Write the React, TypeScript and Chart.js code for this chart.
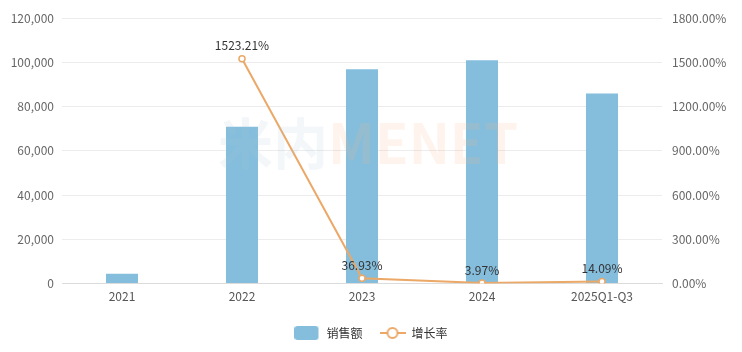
import React, { useEffect, useRef } from "react";
import { Chart, registerables } from "chart.js";

Chart.register(...registerables);

const categories = ["2021", "2022", "2023", "2024", "2025Q1-Q3"];
const salesValues = [4500, 70900, 96800, 100900, 85900];
const growthValues: (number | null)[] = [null, 1523.21, 36.93, 3.97, 14.09];
const leftTicks = [0, 20000, 40000, 60000, 80000, 100000, 120000];
const rightTicks = [0, 300, 600, 900, 1200, 1500, 1800];

const BAR_COLOR = "#85bedc";
const LINE_COLOR = "#eba867";
const FONT = "'Noto Sans CJK SC', 'Noto Sans', sans-serif";

function makeIcon(kind: "bar" | "line"): HTMLCanvasElement {
  const c = document.createElement("canvas");
  c.width = 26;
  c.height = 14;
  const ctx = c.getContext("2d")!;
  if (kind === "bar") {
    ctx.fillStyle = BAR_COLOR;
    const r = 3;
    ctx.beginPath();
    ctx.moveTo(r, 0);
    ctx.lineTo(24 - r, 0);
    ctx.quadraticCurveTo(24, 0, 24, r);
    ctx.lineTo(24, 14 - r);
    ctx.quadraticCurveTo(24, 14, 24 - r, 14);
    ctx.lineTo(r, 14);
    ctx.quadraticCurveTo(0, 14, 0, 14 - r);
    ctx.lineTo(0, r);
    ctx.quadraticCurveTo(0, 0, r, 0);
    ctx.fill();
  } else {
    ctx.strokeStyle = LINE_COLOR;
    ctx.lineWidth = 2;
    ctx.beginPath();
    ctx.moveTo(0, 7);
    ctx.lineTo(26, 7);
    ctx.stroke();
    ctx.fillStyle = "#fff";
    ctx.beginPath();
    ctx.arc(13, 7, 5, 0, Math.PI * 2);
    ctx.fill();
    ctx.stroke();
  }
  return c;
}

const labelPlugin = {
  id: "pointLabels",
  afterDatasetsDraw(chart: any) {
    const ctx = chart.ctx;
    // watermark
    const area = chart.chartArea;
    ctx.save();
    ctx.font = `bold 55px ${FONT}`;
    ctx.textBaseline = "middle";
    ctx.textAlign = "left";
    const wy = (area.top + area.bottom) / 2 - 8;
    const w1 = ctx.measureText("米内").width;
    const w2 = ctx.measureText("MENET").width;
    const sx = (area.left + area.right) / 2 - (w1 + w2) / 2 + 6;
    ctx.fillStyle = "rgba(170,195,210,0.14)";
    ctx.fillText("米内", sx, wy);
    ctx.fillStyle = "rgba(245,180,130,0.14)";
    ctx.fillText("MENET", sx + w1, wy);
    ctx.restore();

    const meta = chart.getDatasetMeta(1);
    ctx.save();
    ctx.font = `12px ${FONT}`;
    ctx.fillStyle = "#333";
    ctx.textAlign = "center";
    ctx.textBaseline = "bottom";
    meta.data.forEach((pt: any, i: number) => {
      const v = growthValues[i];
      if (v === null || v === undefined) return;
      ctx.fillText(v.toFixed(2) + "%", pt.x, pt.y - 7);
    });
    ctx.restore();
  },
};

export default function App() {
  const ref = useRef<HTMLCanvasElement>(null);
  useEffect(() => {
    document.body.style.margin = "0";
    const barIcon = makeIcon("bar");
    const lineIcon = makeIcon("line");
    const chart = new Chart(ref.current!, {
      type: "bar",
      data: {
        labels: categories,
        datasets: [
          {
            type: "bar",
            label: "销售额",
            data: salesValues,
            backgroundColor: BAR_COLOR,
            barPercentage: 0.267,
            categoryPercentage: 1,
            yAxisID: "y",
            order: 2,
          },
          {
            type: "line",
            label: "增长率",
            data: growthValues,
            borderColor: LINE_COLOR,
            borderWidth: 2,
            pointRadius: 3,
            pointBorderWidth: 1.5,
            pointBackgroundColor: "#fff",
            pointBorderColor: LINE_COLOR,
            tension: 0,
            yAxisID: "y1",
            order: 1,
          } as any,
        ],
      },
      plugins: [labelPlugin],
      options: {
        responsive: false,
        animation: false,
        layout: { padding: { top: 18, left: 0, right: 0, bottom: 3 } },
        plugins: {
          tooltip: { enabled: false },
          legend: {
            position: "bottom",
            labels: {
              usePointStyle: true,
              pointStyleWidth: 26,
              boxHeight: 14,
              padding: 17,
              color: "#333",
              font: { family: FONT, size: 12 },
              generateLabels: () => [
                {
                  text: "销售额",
                  pointStyle: barIcon,
                  fillStyle: BAR_COLOR,
                  strokeStyle: BAR_COLOR,
                  lineWidth: 0,
                  datasetIndex: 0,
                  fontColor: "#333",
                } as any,
                {
                  text: "增长率",
                  pointStyle: lineIcon,
                  fillStyle: "#fff",
                  strokeStyle: LINE_COLOR,
                  lineWidth: 0,
                  datasetIndex: 1,
                  fontColor: "#333",
                } as any,
              ],
            },
          },
        },
        scales: {
          x: {
            grid: { display: false, drawTicks: false },
            border: { color: "#dcdcdc" },
            ticks: {
              color: "#555",
              font: { family: FONT, size: 12 },
              padding: 6,
            },
          },
          y: {
            position: "left",
            min: 0,
            max: 120000,
            afterBuildTicks: (s: any) => {
              s.ticks = leftTicks.map((v) => ({ value: v }));
            },
            afterFit: (s: any) => {
              s.width = 62;
            },
            grid: { color: "#ececec", drawTicks: false },
            border: { display: false },
            ticks: {
              color: "#666",
              padding: 8,
              font: { family: FONT, size: 12 },
              callback: (v: any) => Number(v).toLocaleString("en-US"),
            },
          },
          y1: {
            position: "right",
            min: 0,
            max: 1800,
            afterBuildTicks: (s: any) => {
              s.ticks = rightTicks.map((v) => ({ value: v }));
            },
            afterFit: (s: any) => {
              s.width = 80;
            },
            grid: { display: false, drawTicks: false },
            border: { display: false },
            ticks: {
              color: "#666",
              padding: 10,
              font: { family: FONT, size: 12 },
              callback: (v: any) => Number(v).toFixed(2) + "%",
            },
          },
        },
      },
    });
    return () => chart.destroy();
  }, []);
  return <canvas ref={ref} width={742} height={352} style={{ display: "block" }} />;
}
